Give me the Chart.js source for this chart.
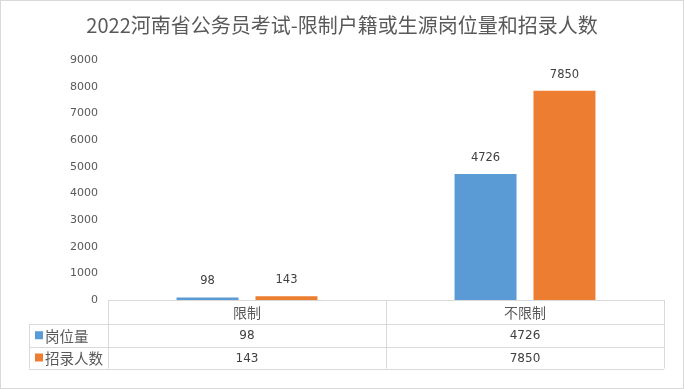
<!DOCTYPE html>
<html><head><meta charset="utf-8">
<script src="https://cdn.jsdelivr.net/npm/chart.js@4"></script>
<style>
html,body{margin:0;padding:0;background:#fff;}
#wrap{position:relative;width:684px;height:389px;}
</style></head>
<body><div id="wrap"><canvas id="c" width="684" height="389"></canvas></div>
<script>
const title = "2022河南省公务员考试-限制户籍或生源岗位量和招录人数";
const categories = ["限制", "不限制"];
const seriesNames = ["岗位量", "招录人数"];
const postCount = [98, 4726];
const hireCount = [143, 7850];
const yTicks = [0, 1000, 2000, 3000, 4000, 5000, 6000, 7000, 8000, 9000];
const colors = ["#5B9BD5", "#ED7D31"];

const CJK = '"Noto Sans CJK SC", "Microsoft YaHei", sans-serif';
const NUM = '"DejaVu Sans", Verdana, sans-serif';

const extras = {
  id: 'extras',
  afterDraw(chart) {
    const ctx = chart.ctx;
    const area = chart.chartArea;
    const xs = chart.scales.x;
    ctx.save();
    // outer border
    ctx.strokeStyle = '#D9D9D9';
    ctx.lineWidth = 1;
    ctx.strokeRect(0.5, 0.5, chart.width - 1, chart.height - 1);
    // title
    ctx.fillStyle = '#595959';
    ctx.font = '20px ' + CJK;
    ctx.textAlign = 'center';
    ctx.textBaseline = 'middle';
    ctx.fillText(title, chart.width / 2, 25);
    // data labels
    ctx.fillStyle = '#404040';
    ctx.font = '11.5px ' + NUM;
    ctx.textBaseline = 'alphabetic';
    chart.data.datasets.forEach((ds, di) => {
      chart.getDatasetMeta(di).data.forEach((bar, i) => {
        ctx.fillText(String(ds.data[i]), bar.x, bar.y - 13);
      });
    });
    // data table
    const L = area.left, R = area.right, T = area.bottom;
    const rowH = [24, 22.5, 22];
    const y1 = T + rowH[0], y2 = y1 + rowH[1], y3 = y2 + rowH[2];
    const legL = L - 79;
    const mid = (xs.getPixelForValue(0) + xs.getPixelForValue(1)) / 2;
    const r = v => Math.round(v) + 0.5;
    ctx.strokeStyle = '#D9D9D9';
    ctx.beginPath();
    ctx.moveTo(L, r(T)); ctx.lineTo(R, r(T));
    [y1, y2, y3].forEach(y => { ctx.moveTo(legL, r(y)); ctx.lineTo(R, r(y)); });
    [L, mid, R].forEach(x => { ctx.moveTo(r(x), T); ctx.lineTo(r(x), y3); });
    ctx.moveTo(r(legL), y1); ctx.lineTo(r(legL), y3);
    ctx.stroke();
    ctx.textBaseline = 'middle';
    ctx.textAlign = 'center';
    ctx.fillStyle = '#595959';
    ctx.font = '14px ' + CJK;
    categories.forEach((c, i) => ctx.fillText(c, xs.getPixelForValue(i), T + rowH[0] / 2 + 1));
    const rowsY = [(y1 + y2) / 2, (y2 + y3) / 2];
    chart.data.datasets.forEach((ds, di) => {
      ctx.textAlign = 'center';
      ctx.font = '12px ' + NUM;
      ctx.fillStyle = '#404040';
      ds.data.forEach((v, i) => ctx.fillText(String(v), xs.getPixelForValue(i), rowsY[di] + 1));
      ctx.fillStyle = colors[di];
      ctx.fillRect(legL + 6, rowsY[di] - 4, 8, 8);
      ctx.fillStyle = '#595959';
      ctx.textAlign = 'left';
      ctx.font = '14.5px ' + CJK;
      ctx.fillText(ds.label, legL + 16, rowsY[di] + 1);
    });
    ctx.restore();
  }
};

new Chart(document.getElementById('c'), {
  type: 'bar',
  data: {
    labels: categories,
    datasets: [
      { label: seriesNames[0], data: postCount, backgroundColor: colors[0] },
      { label: seriesNames[1], data: hireCount, backgroundColor: colors[1] }
    ]
  },
  options: {
    responsive: false,
    animation: false,
    devicePixelRatio: 1,
    layout: { padding: { left: 0, right: 20, top: 60, bottom: 89 } },
    categoryPercentage: 0.568,
    barPercentage: 0.785,
    plugins: { legend: { display: false }, tooltip: { enabled: false }, title: { display: false } },
    scales: {
      x: { display: false },
      y: {
        min: 0, max: 9000,
        afterFit(s) { s.width = 108; },
        afterBuildTicks(s) { s.ticks = yTicks.map(v => ({ value: v })); },
        grid: { display: false, drawTicks: false },
        border: { display: false },
        ticks: { padding: 10, color: '#595959', font: { family: NUM, size: 11 }, callback: v => String(v) }
      }
    }
  },
  plugins: [extras]
});
</script></body></html>
